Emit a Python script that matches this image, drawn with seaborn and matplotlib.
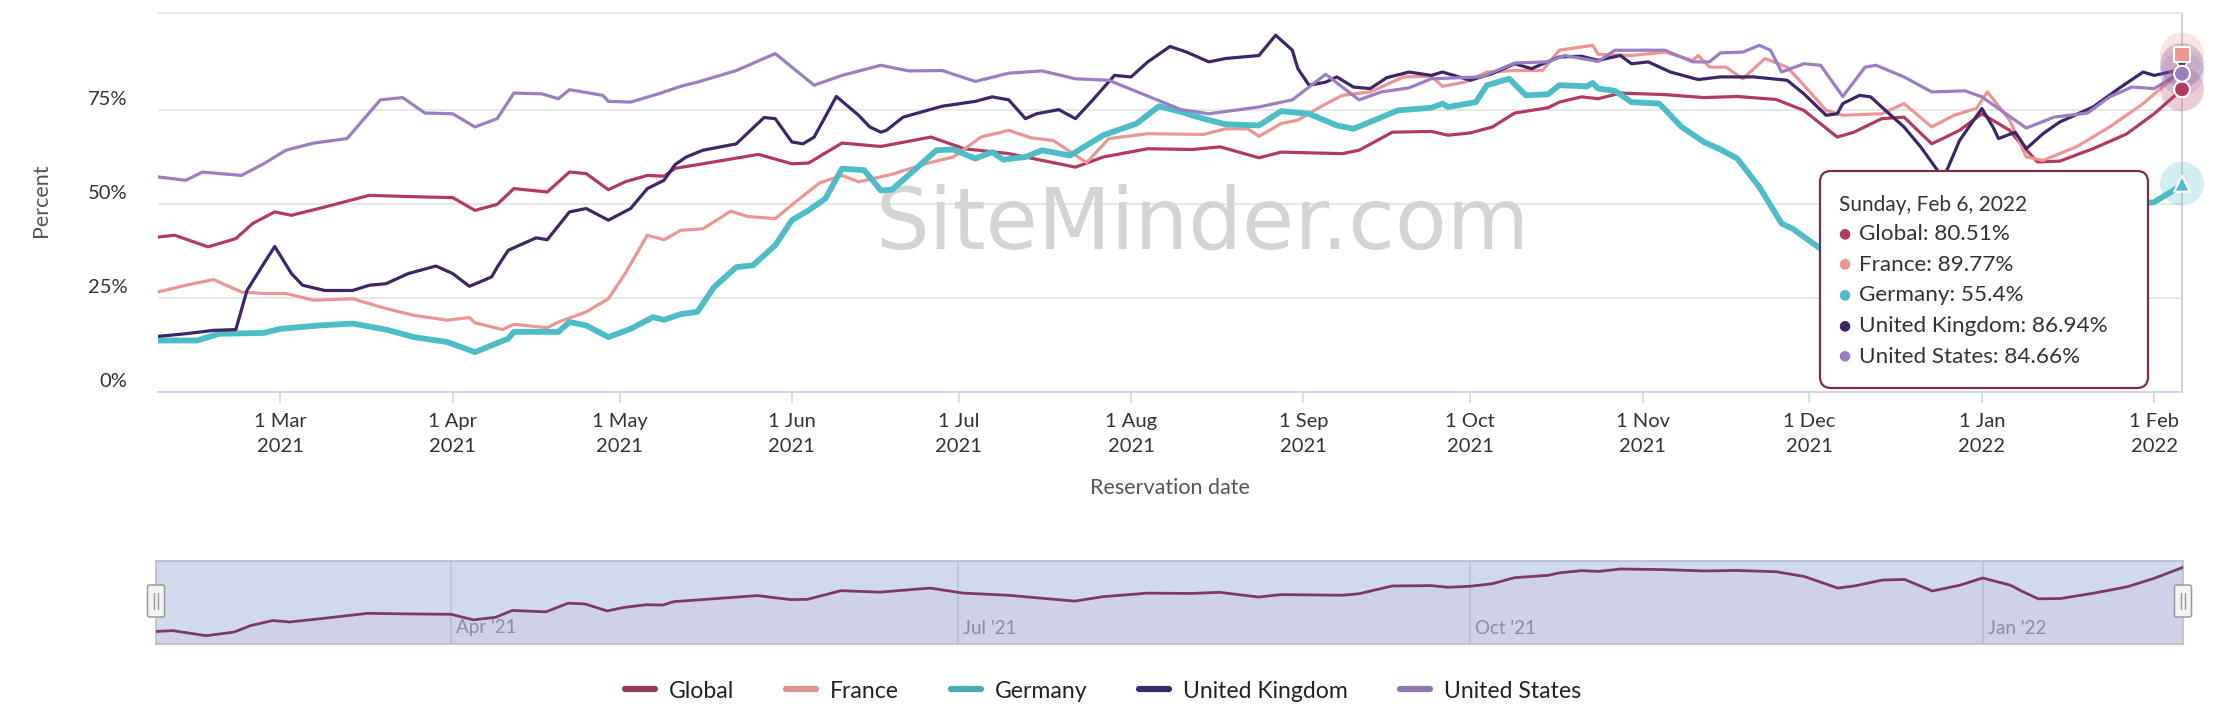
import matplotlib
matplotlib.use('Agg')
import matplotlib.pyplot as plt
import matplotlib.dates as mdates
import matplotlib.transforms as mtransforms
from matplotlib.patches import FancyBboxPatch
from matplotlib.lines import Line2D
import pandas as pd
import seaborn as sns

# ---- data ----
series_names = ['Global', 'France', 'Germany', 'United Kingdom', 'United States']

global_dates = [
    '2021-02-07', '2021-02-10', '2021-02-16', '2021-02-21', '2021-02-24', '2021-02-28',
    '2021-03-03', '2021-03-09', '2021-03-17', '2021-03-26', '2021-04-01', '2021-04-05',
    '2021-04-09', '2021-04-12', '2021-04-18', '2021-04-22', '2021-04-25', '2021-04-29',
    '2021-05-02', '2021-05-06', '2021-05-09', '2021-05-11', '2021-05-16', '2021-05-26',
    '2021-06-01', '2021-06-04', '2021-06-10', '2021-06-17', '2021-06-26', '2021-07-02',
    '2021-07-10', '2021-07-16', '2021-07-22', '2021-07-27', '2021-08-04', '2021-08-12',
    '2021-08-17', '2021-08-24', '2021-08-28', '2021-09-08', '2021-09-11', '2021-09-17',
    '2021-09-24', '2021-09-27', '2021-10-01', '2021-10-05', '2021-10-09', '2021-10-15',
    '2021-10-17', '2021-10-21', '2021-10-24', '2021-10-28', '2021-11-05', '2021-11-12',
    '2021-11-18', '2021-11-25', '2021-11-30', '2021-12-06', '2021-12-09', '2021-12-14',
    '2021-12-18', '2021-12-23', '2021-12-28', '2022-01-01', '2022-01-06', '2022-01-08',
    '2022-01-11', '2022-01-15', '2022-01-21', '2022-01-27', '2022-02-01', '2022-02-06']
global_values = [
    41.2, 41.7, 38.6, 40.8, 44.8, 47.9, 47.0, 49.2, 52.3, 51.9, 51.7, 48.3,
    49.9, 54.1, 53.2, 58.5, 58.1, 53.8, 55.9, 57.6, 57.4, 59.5, 60.7, 63.2,
    60.7, 60.9, 66.2, 65.3, 67.8, 64.7, 63.4, 61.6, 59.8, 62.5, 64.7, 64.5,
    65.2, 62.3, 63.8, 63.4, 64.3, 69.1, 69.3, 68.3, 68.9, 70.5, 74.2, 75.6,
    77.1, 78.5, 78.0, 79.5, 79.1, 78.3, 78.6, 77.8, 74.9, 67.8, 69.1, 72.7,
    73.1, 66.0, 69.6, 74.0, 69.6, 66.0, 61.2, 61.4, 64.7, 68.6, 74.0, 80.51]

france_dates = [
    '2021-02-07', '2021-02-12', '2021-02-17', '2021-02-22', '2021-02-26', '2021-03-02',
    '2021-03-07', '2021-03-14', '2021-03-20', '2021-03-25', '2021-03-31', '2021-04-04',
    '2021-04-05', '2021-04-10', '2021-04-12', '2021-04-18', '2021-04-20', '2021-04-25',
    '2021-04-29', '2021-05-02', '2021-05-06', '2021-05-09', '2021-05-12', '2021-05-16',
    '2021-05-21', '2021-05-24', '2021-05-29', '2021-06-02', '2021-06-06', '2021-06-10',
    '2021-06-13', '2021-06-19', '2021-06-25', '2021-06-30', '2021-07-05', '2021-07-10',
    '2021-07-14', '2021-07-18', '2021-07-24', '2021-07-28', '2021-08-04', '2021-08-14',
    '2021-08-18', '2021-08-22', '2021-08-24', '2021-08-28', '2021-08-31', '2021-09-04',
    '2021-09-08', '2021-09-13', '2021-09-19', '2021-09-24', '2021-09-26', '2021-09-30',
    '2021-10-04', '2021-10-09', '2021-10-14', '2021-10-17', '2021-10-23', '2021-10-24',
    '2021-10-30', '2021-11-05', '2021-11-10', '2021-11-11', '2021-11-13', '2021-11-16',
    '2021-11-19', '2021-11-23', '2021-11-27', '2021-11-30', '2021-12-04', '2021-12-07',
    '2021-12-14', '2021-12-18', '2021-12-23', '2021-12-27', '2021-12-31', '2022-01-02',
    '2022-01-06', '2022-01-09', '2022-01-12', '2022-01-18', '2022-01-24', '2022-01-30',
    '2022-02-04', '2022-02-06']
france_values = [
    26.6, 28.4, 29.9, 26.6, 26.2, 26.2, 24.4, 24.8, 22.2, 20.4, 19.1, 19.8,
    18.4, 16.6, 18.0, 17.1, 18.6, 21.3, 24.8, 31.5, 41.7, 40.5, 43.0, 43.4,
    48.1, 46.7, 46.1, 51.0, 55.6, 57.6, 55.9, 57.9, 60.7, 62.5, 67.8, 69.6,
    67.6, 66.9, 61.0, 67.4, 68.7, 68.5, 70.0, 70.0, 68.0, 71.4, 72.3, 75.8,
    78.9, 79.8, 83.8, 84.0, 81.3, 82.4, 85.1, 85.5, 85.5, 90.9, 92.2, 89.8,
    89.5, 90.4, 88.2, 89.5, 86.4, 86.4, 83.3, 88.7, 86.4, 81.6, 74.9, 73.6,
    74.0, 76.7, 70.5, 73.6, 75.4, 79.8, 72.3, 62.5, 61.6, 65.2, 70.5, 76.7,
    83.0, 89.77]

germany_dates = [
    '2021-02-07', '2021-02-14', '2021-02-18', '2021-02-26', '2021-03-01', '2021-03-08',
    '2021-03-14', '2021-03-20', '2021-03-25', '2021-03-31', '2021-04-05', '2021-04-08',
    '2021-04-11', '2021-04-12', '2021-04-20', '2021-04-22', '2021-04-25', '2021-04-29',
    '2021-05-03', '2021-05-07', '2021-05-09', '2021-05-12', '2021-05-15', '2021-05-18',
    '2021-05-22', '2021-05-25', '2021-05-29', '2021-06-01', '2021-06-04', '2021-06-07',
    '2021-06-10', '2021-06-14', '2021-06-17', '2021-06-19', '2021-06-23', '2021-06-27',
    '2021-06-30', '2021-07-04', '2021-07-07', '2021-07-09', '2021-07-13', '2021-07-16',
    '2021-07-21', '2021-07-27', '2021-08-02', '2021-08-06', '2021-08-10', '2021-08-14',
    '2021-08-18', '2021-08-24', '2021-08-28', '2021-09-02', '2021-09-07', '2021-09-10',
    '2021-09-18', '2021-09-24', '2021-09-26', '2021-09-27', '2021-10-02', '2021-10-04',
    '2021-10-08', '2021-10-11', '2021-10-15', '2021-10-17', '2021-10-22', '2021-10-23',
    '2021-10-24', '2021-10-27', '2021-10-30', '2021-11-04', '2021-11-08', '2021-11-12',
    '2021-11-15', '2021-11-18', '2021-11-22', '2021-11-26', '2021-11-28', '2021-12-03',
    '2021-12-10', '2021-12-19', '2021-12-29', '2022-01-08', '2022-01-18', '2022-01-26',
    '2022-02-01', '2022-02-05', '2022-02-06']
germany_values = [
    13.7, 13.7, 15.5, 15.7, 16.8, 17.7, 18.2, 16.6, 14.6, 13.3, 10.6, 12.4,
    14.2, 16.0, 16.0, 18.6, 17.7, 14.6, 16.8, 19.9, 19.2, 20.7, 21.3, 27.9,
    33.2, 33.7, 39.0, 45.7, 48.3, 51.4, 59.4, 59.0, 53.6, 53.8, 59.0, 64.3,
    64.5, 62.1, 63.8, 61.8, 62.5, 64.3, 62.9, 68.3, 71.4, 76.0, 74.5, 72.7,
    71.2, 70.9, 74.7, 74.0, 70.9, 70.0, 74.9, 75.6, 76.7, 75.8, 77.1, 81.6,
    83.3, 78.9, 79.2, 81.6, 81.3, 82.2, 80.7, 80.1, 77.1, 76.7, 70.5, 66.5,
    64.5, 62.1, 54.5, 44.8, 43.4, 38.1, 35.5, 33.0, 34.5, 39.0, 44.5, 49.3,
    50.5, 54.1, 55.4]

uk_dates = [
    '2021-02-07', '2021-02-12', '2021-02-17', '2021-02-21', '2021-02-23', '2021-02-26',
    '2021-02-28', '2021-03-03', '2021-03-05', '2021-03-09', '2021-03-14', '2021-03-17',
    '2021-03-20', '2021-03-24', '2021-03-29', '2021-04-01', '2021-04-04', '2021-04-08',
    '2021-04-09', '2021-04-11', '2021-04-16', '2021-04-18', '2021-04-22', '2021-04-25',
    '2021-04-29', '2021-05-03', '2021-05-06', '2021-05-09', '2021-05-11', '2021-05-13',
    '2021-05-16', '2021-05-22', '2021-05-27', '2021-05-29', '2021-06-01', '2021-06-03',
    '2021-06-05', '2021-06-09', '2021-06-13', '2021-06-15', '2021-06-17', '2021-06-18',
    '2021-06-21', '2021-06-28', '2021-07-04', '2021-07-07', '2021-07-10', '2021-07-13',
    '2021-07-15', '2021-07-19', '2021-07-22', '2021-07-25', '2021-07-29', '2021-08-01',
    '2021-08-04', '2021-08-08', '2021-08-11', '2021-08-15', '2021-08-18', '2021-08-24',
    '2021-08-27', '2021-08-30', '2021-08-31', '2021-09-02', '2021-09-05', '2021-09-07',
    '2021-09-10', '2021-09-13', '2021-09-16', '2021-09-20', '2021-09-24', '2021-09-26',
    '2021-10-01', '2021-10-05', '2021-10-09', '2021-10-12', '2021-10-17', '2021-10-21',
    '2021-10-24', '2021-10-28', '2021-10-30', '2021-11-02', '2021-11-06', '2021-11-11',
    '2021-11-15', '2021-11-21', '2021-11-27', '2021-11-30', '2021-12-04', '2021-12-06',
    '2021-12-07', '2021-12-10', '2021-12-12', '2021-12-16', '2021-12-18', '2021-12-21',
    '2021-12-24', '2021-12-25', '2021-12-28', '2022-01-01', '2022-01-03', '2022-01-04',
    '2022-01-07', '2022-01-09', '2022-01-12', '2022-01-15', '2022-01-21', '2022-01-26',
    '2022-01-30', '2022-02-01', '2022-02-05', '2022-02-06']
uk_values = [
    14.8, 15.5, 16.4, 16.6, 27.0, 34.1, 38.7, 31.5, 28.4, 27.0, 27.0, 28.4,
    28.8, 31.5, 33.5, 31.5, 28.1, 30.6, 33.2, 37.7, 41.0, 40.5, 47.9, 48.8,
    45.7, 48.8, 54.1, 56.3, 60.5, 62.5, 64.3, 66.0, 73.0, 72.7, 66.5, 66.0,
    67.8, 78.6, 73.6, 70.5, 69.1, 69.6, 73.1, 76.0, 77.3, 78.5, 77.7, 72.7,
    74.0, 75.1, 72.7, 77.5, 84.2, 83.8, 87.8, 91.9, 90.4, 87.8, 88.7, 89.5,
    94.9, 90.9, 86.0, 81.6, 82.4, 83.8, 81.1, 80.7, 83.6, 85.1, 84.2, 85.1,
    82.9, 84.7, 87.3, 86.0, 89.1, 89.3, 88.2, 89.5, 87.3, 87.8, 85.1, 83.1,
    83.8, 83.8, 82.9, 79.3, 73.6, 74.0, 76.7, 78.9, 78.5, 73.1, 70.5, 65.2,
    59.0, 56.5, 66.9, 75.4, 70.5, 67.4, 69.1, 64.7, 68.7, 71.8, 75.8, 81.1,
    85.1, 84.2, 85.5, 86.94]

us_dates = [
    '2021-02-07', '2021-02-12', '2021-02-15', '2021-02-22', '2021-02-26', '2021-03-02',
    '2021-03-07', '2021-03-13', '2021-03-19', '2021-03-23', '2021-03-27', '2021-04-01',
    '2021-04-05', '2021-04-09', '2021-04-12', '2021-04-17', '2021-04-20', '2021-04-22',
    '2021-04-28', '2021-04-29', '2021-05-03', '2021-05-08', '2021-05-12', '2021-05-15',
    '2021-05-22', '2021-05-29', '2021-06-05', '2021-06-10', '2021-06-17', '2021-06-22',
    '2021-06-28', '2021-07-04', '2021-07-10', '2021-07-16', '2021-07-22', '2021-07-28',
    '2021-08-03', '2021-08-10', '2021-08-15', '2021-08-24', '2021-08-30', '2021-09-05',
    '2021-09-11', '2021-09-15', '2021-09-20', '2021-09-24', '2021-10-03', '2021-10-09',
    '2021-10-15', '2021-10-18', '2021-10-24', '2021-10-27', '2021-11-05', '2021-11-10',
    '2021-11-13', '2021-11-15', '2021-11-19', '2021-11-22', '2021-11-24', '2021-11-26',
    '2021-11-30', '2021-12-03', '2021-12-07', '2021-12-11', '2021-12-13', '2021-12-18',
    '2021-12-23', '2021-12-29', '2022-01-01', '2022-01-09', '2022-01-14', '2022-01-20',
    '2022-01-24', '2022-01-28', '2022-02-01', '2022-02-05', '2022-02-06']
us_values = [
    57.2, 56.3, 58.5, 57.6, 60.7, 64.3, 66.2, 67.4, 77.7, 78.3, 74.2, 74.0,
    70.5, 72.7, 79.5, 79.3, 78.0, 80.4, 78.9, 77.3, 77.1, 79.3, 81.3, 82.4,
    85.5, 90.0, 81.6, 84.2, 86.9, 85.4, 85.5, 82.6, 84.8, 85.4, 83.3, 82.9,
    79.3, 75.1, 74.0, 75.8, 77.7, 84.5, 77.7, 79.8, 80.9, 83.3, 83.8, 87.5,
    87.8, 89.5, 87.9, 90.9, 90.9, 87.8, 87.8, 90.2, 90.4, 92.2, 90.9, 85.1,
    87.3, 86.9, 78.6, 86.4, 86.9, 83.8, 79.8, 80.1, 78.5, 70.2, 73.1, 74.2,
    78.5, 81.1, 80.7, 84.2, 84.66]

colors = {'Global': '#b23a5e', 'France': '#ec9594', 'Germany': '#4cbdc7',
          'United Kingdom': '#3e2568', 'United States': '#9a7ec0'}
legend_colors = ['#923d5f', '#dc9392', '#4aabb0', '#3b2a68', '#8f78ae']
line_widths = {'Global': 2.3, 'France': 2.3, 'Germany': 4.2,
               'United Kingdom': 2.3, 'United States': 2.3}
end_markers = {'Global': 'o', 'France': 's', 'Germany': '^',
               'United Kingdom': 'v', 'United States': 'o'}

frames = []
for name, d, v in zip(series_names,
                      [global_dates, france_dates, germany_dates, uk_dates, us_dates],
                      [global_values, france_values, germany_values, uk_values, us_values]):
    frames.append(pd.DataFrame({'date': pd.to_datetime(d), 'value': v, 'series': name}))
df = pd.concat(frames, ignore_index=True)
last = df.sort_values('date').groupby('series', sort=False).tail(1)

sns.set_theme(style='white')
plt.rcParams['font.family'] = ['Lato', 'DejaVu Sans']

W, H = 2239, 721
fig = plt.figure(figsize=(W / 100, H / 100), dpi=100)
fig.patch.set_facecolor('white')
px = mtransforms.IdentityTransform()


def fx(x):
    return x / W


def fy(y):
    return 1 - y / H


# ---- main chart ----
ax = fig.add_axes([fx(158), fy(392), fx(2182) - fx(158), fy(13) - fy(392)])
sns.lineplot(data=df, x='date', y='value', hue='series', hue_order=series_names,
             palette=colors, size='series', size_order=series_names, sizes=line_widths,
             legend=False, errorbar=None, ax=ax, solid_joinstyle='round',
             solid_capstyle='round', zorder=3)

x0, x1 = df['date'].min(), df['date'].max()
ax.set_xlim(x0, x1)
ax.set_ylim(0, 100.8)
ax.set_yticks([0, 25, 50, 75])
ax.set_yticklabels([f'{t}%' for t in [0, 25, 50, 75]])
ax.grid(axis='y', color='#e6e6e6', lw=1.3)
ax.grid(axis='x', visible=False)

month_ticks = pd.date_range('2021-03-01', '2022-02-01', freq='MS')
ax.set_xticks(month_ticks)
ax.set_xticklabels([f'{d.day} {d:%b}\n{d.year}' for d in month_ticks], linespacing=1.55)

ax.tick_params(axis='x', length=8, width=1.2, color='#ccd6eb', pad=7,
               labelsize=14.5, labelcolor='#333333', bottom=True)
ax.tick_params(axis='y', length=0, pad=22, labelsize=14.5, labelcolor='#333333')
shift = mtransforms.ScaledTranslation(0, 12 / 100, fig.dpi_scale_trans)
for lab in ax.get_yticklabels():
    lab.set_transform(lab.get_transform() + shift)

ax.spines['left'].set_visible(False)
ax.spines['top'].set_color('#e6e6e6')
ax.spines['top'].set_linewidth(1.3)
ax.spines['right'].set_color('#cccccc')
ax.spines['right'].set_linewidth(1.2)
ax.spines['bottom'].set_color('#ccd6eb')
ax.spines['bottom'].set_linewidth(1.3)

# watermark
ax.text(0.516, 0.378, 'SiteMinder.com', transform=ax.transAxes, ha='center',
        va='baseline', fontsize=61, color='#d4d4d4', family='DejaVu Sans', zorder=1)

# hover markers at the last point
sns.scatterplot(data=last, x='date', y='value', hue='series', hue_order=series_names,
                palette=colors, s=1000, alpha=0.25, linewidth=0, legend=False,
                ax=ax, clip_on=False, zorder=4)
sns.scatterplot(data=last, x='date', y='value', hue='series', hue_order=series_names,
                palette=colors, style='series', style_order=series_names,
                markers=end_markers, s=130, edgecolor='white', linewidth=1.5,
                legend=False, ax=ax, clip_on=False, zorder=5)

ax.set_xlabel('Reservation date', fontsize=15.5, color='#555555')
ax.set_ylabel('Percent', fontsize=15.5, color='#555555')
ax.xaxis.set_label_coords(0.5, -0.228)
ax.yaxis.set_label_coords(-0.053, 0.507)

# ---- tooltip ----
fig.patches.append(FancyBboxPatch((1820, H - 388), 328, 217,
                                  boxstyle='round,pad=0,rounding_size=11',
                                  transform=px, facecolor='white', edgecolor='#7b2d4c',
                                  linewidth=1.6, figure=fig, zorder=5))
end_day = x1
fig.text(1839, H - 211, f'{end_day:%A, %b} {end_day.day}, {end_day.year}',
         transform=px, fontsize=15, color='#333333', va='baseline', zorder=6)
for i, name in enumerate(series_names):
    val = last.loc[last['series'] == name, 'value'].iloc[0]
    yb = H - (240 + i * 30.7)
    fig.text(1844, yb + 7, '●', transform=px, fontsize=10, color=colors[name],
             ha='center', va='center', family='DejaVu Sans', zorder=6)
    fig.text(1859, yb, f'{name}: {val:g}%', transform=px, fontsize=16.2,
             color='#333333', va='baseline', zorder=6)

# ---- navigator ----
nav = fig.add_axes([fx(156), fy(644), fx(2183) - fx(156), fy(561) - fy(644)])
nav.set_facecolor('#d1daed')
g = df[df['series'] == 'Global']
nav.fill_between(g['date'], g['value'], 0, color='#b03a5d', alpha=0.05, lw=0)
sns.lineplot(x=g['date'], y=g['value'], color='#7d3a64', lw=2.0, ax=nav, zorder=3)
nav.set_xlim(x0, x1)
nav.set_ylim(33.5, 84.4)
nav.set_yticks([])
nav.set_ylabel('')
nav.set_xlabel('')
nav.xaxis.set_major_locator(mdates.MonthLocator(bymonth=[1, 4, 7, 10]))
nav.xaxis.set_major_formatter(mdates.DateFormatter("%b '%y"))
nav.grid(axis='x', color='#b9c0d4', lw=1.1)
nav.tick_params(axis='x', length=0, pad=0, labelsize=13.5, labelcolor='#8a92a8')
nav_shift = mtransforms.ScaledTranslation(5 / 100, 16 / 100, fig.dpi_scale_trans)
for lab in nav.get_xticklabels():
    lab.set_horizontalalignment('left')
    lab.set_verticalalignment('center')
    lab.set_transform(lab.get_transform() + nav_shift)
for side in nav.spines:
    nav.spines[side].set_color('#b4b9c8')
    nav.spines[side].set_linewidth(1.1)

# navigator handles
for xc in [156, 2183]:
    fig.patches.append(FancyBboxPatch((xc - 8.5, H - 617), 17, 32,
                                      boxstyle='round,pad=0,rounding_size=2',
                                      transform=px, facecolor='#f4f4f4',
                                      edgecolor='#999999', linewidth=1.1,
                                      figure=fig, zorder=5))
    for dx in (-2, 2):
        fig.add_artist(Line2D([xc + dx, xc + dx], [H - 609, H - 593], transform=px,
                              color='#999999', lw=1, zorder=6))

# ---- legend ----
handles = [Line2D([], [], color=c, lw=4.5) for c in legend_colors]
fig.legend(handles, series_names, loc='center', bbox_to_anchor=(fx(1103), fy(691)),
           ncol=5, frameon=False, fontsize=16.6, handlelength=1.3, handletextpad=0.6,
           columnspacing=2.25, labelcolor='#222222')

fig.savefig('out.png', dpi=100, facecolor='white')
